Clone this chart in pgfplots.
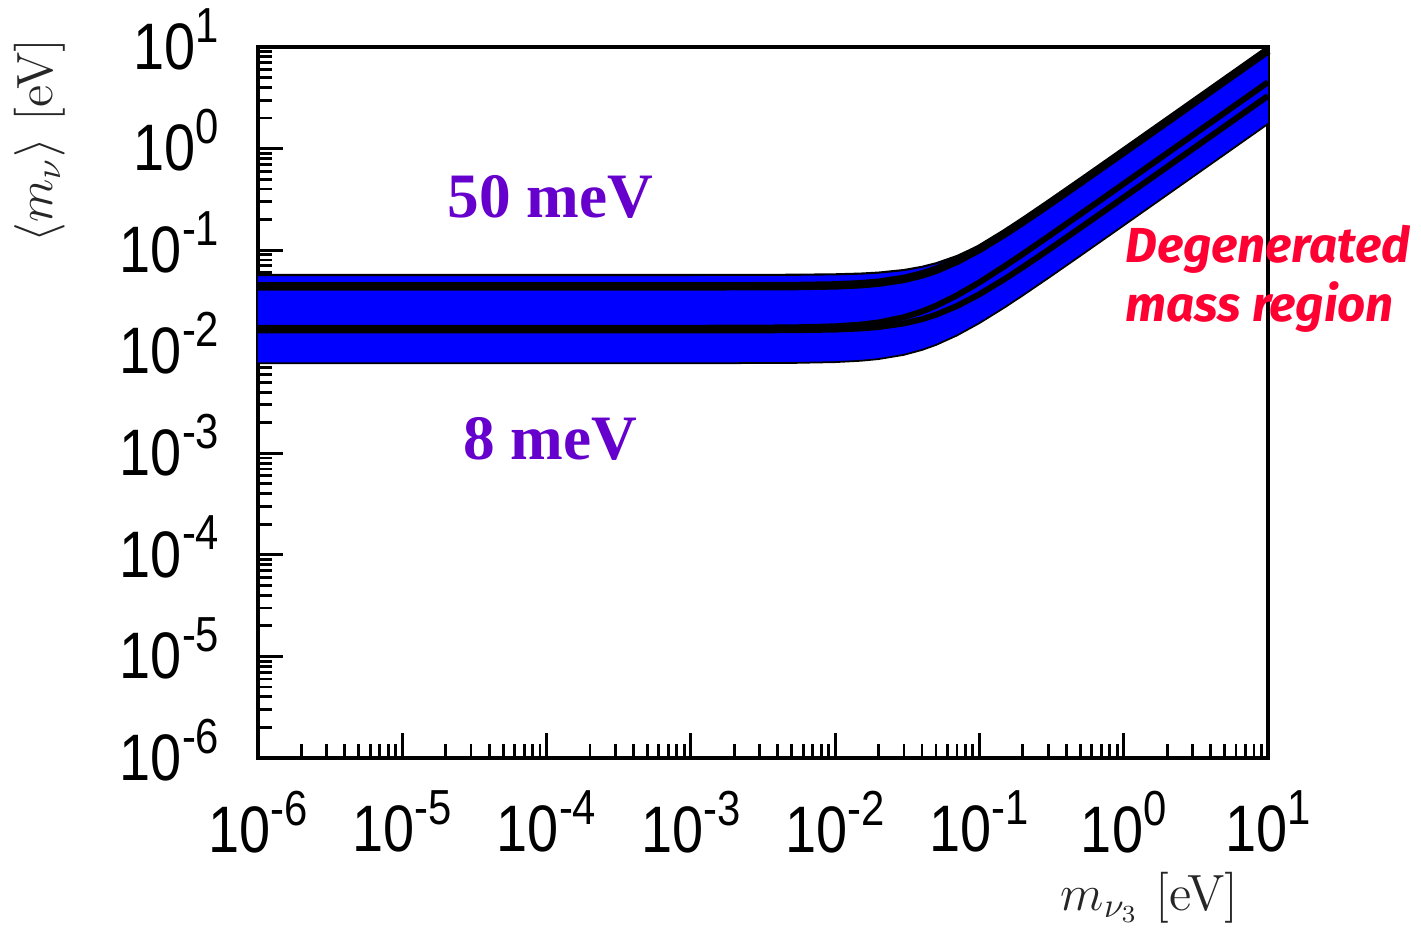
\documentclass[border=0pt]{standalone}
\usepackage{fontspec}
\usepackage{graphicx}
\usepackage{pgfplots}
\pgfplotsset{compat=1.18}
\newfontfamily\arialf{Liberation Sans}
\newfontfamily\timesf{Liberation Serif}
\newfontfamily\firaf{Fira Sans}
\definecolor{bandblue}{RGB}{0,0,255}
\definecolor{labpurple}{RGB}{102,0,204}
\definecolor{degred}{RGB}{255,0,51}
\newcommand{\tl}[1]{\scalebox{0.85}[1]{\arialf\fontsize{18.7}{20}\selectfont 10\raisebox{7.7pt}{\fontsize{14}{14}\selectfont #1}}}

\pgfplotstableread{
x top inner midA midB bot
1e-6 0.0570 0.04400 0.01720 0.01620 0.00770
1e-3 0.0570 0.04400 0.01720 0.01620 0.00770
0.005 0.0572 0.04424 0.01735 0.01628 0.00775
0.01 0.0578 0.04497 0.01778 0.01653 0.00790
0.015 0.05875 0.04616 0.01848 0.01694 0.00814
0.02 0.0601 0.04777 0.01941 0.01749 0.00846
0.03 0.0637 0.05210 0.02187 0.01899 0.00932
0.04 0.0685 0.05762 0.02490 0.02090 0.01041
0.05 0.0742 0.06402 0.02832 0.02312 0.01166
0.07 0.0876 0.07858 0.03589 0.02821 0.01447
0.1 0.1108 0.10288 0.04817 0.03676 0.01912
0.15 0.1535 0.1463 0.06966 0.05208 0.02736
0.2 0.1984 0.1911 0.09163 0.06796 0.03584
0.3 0.2907 0.2825 0.13609 0.10032 0.05306
0.5 0.4784 0.4671 0.22566 0.16579 0.08784
0.7 0.6674 0.6525 0.31547 0.23157 0.12274
1 0.9517 0.9310 0.45033 0.33040 0.17517
2 1.9009 1.860 0.900 0.660 0.350
5 4.750 4.650 2.250 1.650 0.875
10 9.500 9.300 4.500 3.300 1.750
}\bandtable

\begin{document}
\begin{tikzpicture}
\begin{axis}[
  scale only axis, width=10.1cm, height=7.11cm,
  xmode=log, ymode=log,
  xmin=1e-6, xmax=10, ymin=1e-6, ymax=10,
  xtick={1e-6,1e-5,1e-4,1e-3,1e-2,1e-1,1,10},
  ytick={1e-6,1e-5,1e-4,1e-3,1e-2,1e-1,1,10},
  xticklabels={\tl{-6},\tl{-5},\tl{-4},\tl{-3},\tl{-2},\tl{-1},\tl{0},\tl{1}},
  yticklabels={\tl{-6},\tl{-5},\tl{-4},\tl{-3},\tl{-2},\tl{-1},\tl{0},\tl{1}},
  tick align=inside, xtick pos=bottom, ytick pos=left,
  major tick length=2.5mm, minor tick length=1.4mm,
  tick style={black, line width=0.8pt},
  axis line style={line width=1.1pt},
  xticklabel style={anchor=north, inner sep=0pt, yshift=-3.2mm},
  yticklabel style={anchor=base east, inner sep=0pt, xshift=-3.8mm, yshift=-6.3pt},
  clip=false,
]
\addplot[draw=none, fill=bandblue] coordinates {
(1e-6,0.0570) (1e-3,0.0570) (0.005,0.0572) (0.01,0.0578) (0.015,0.05875) (0.02,0.0601) (0.03,0.0637) (0.04,0.0685) (0.05,0.0742) (0.07,0.0876) (0.1,0.1108) (0.15,0.1535) (0.2,0.1984) (0.3,0.2907) (0.5,0.4784) (0.7,0.6674) (1,0.9517) (2,1.9009) (5,4.750) (10,9.500)
(10,1.750) (5,0.875) (2,0.350) (1,0.17517) (0.7,0.12274) (0.5,0.08784) (0.3,0.05306) (0.2,0.03584) (0.15,0.02736) (0.1,0.01912) (0.07,0.01447) (0.05,0.01166) (0.04,0.01041) (0.03,0.00932) (0.02,0.00846) (0.015,0.00814) (0.01,0.00790) (0.005,0.00775) (1e-3,0.00770) (1e-6,0.00770)
} -- cycle;
\addplot[black, line width=0.6pt] table[x=x, y=top] {\bandtable};
\addplot[black, line width=0.5pt] table[x=x, y=bot] {\bandtable};
\addplot[black, line width=2.4pt] table[x=x, y=inner] {\bandtable};
\addplot[black, line width=1.7pt] table[x=x, y=midA] {\bandtable};
\addplot[black, line width=1.7pt] table[x=x, y=midB] {\bandtable};

\node[labpurple, font=\timesf\bfseries\fontsize{18}{20}\selectfont] at (axis cs:1.06e-4,0.334) {50 meV};
\node[labpurple, font=\timesf\bfseries\fontsize{18}{20}\selectfont] at (axis cs:1.06e-4,1.39e-3) {8 meV};
\node[degred, anchor=west, align=left, inner sep=0pt, font=\firaf\bfseries\itshape\fontsize{14}{16.8}\selectfont] at (axis cs:1.02,0.052) {Degenerated\\mass region};

\node[rotate=90, black!85, font=\fontsize{14.5}{16}\selectfont] at (rel axis cs:-0.216,0.869) {$\langle m_\nu\rangle$ [eV]};
\node[black!85, font=\fontsize{14.5}{16}\selectfont] at (rel axis cs:0.883,-0.196) {$m_{\nu_3}$ [eV]};

\coordinate (bbBL) at (rel axis cs:-0.2554,-0.2377);
\coordinate (bbTR) at (rel axis cs:1.1515,1.0661);
\end{axis}
\pgfresetboundingbox
\path[use as bounding box] (bbBL) rectangle (bbTR);
\end{tikzpicture}
\end{document}
